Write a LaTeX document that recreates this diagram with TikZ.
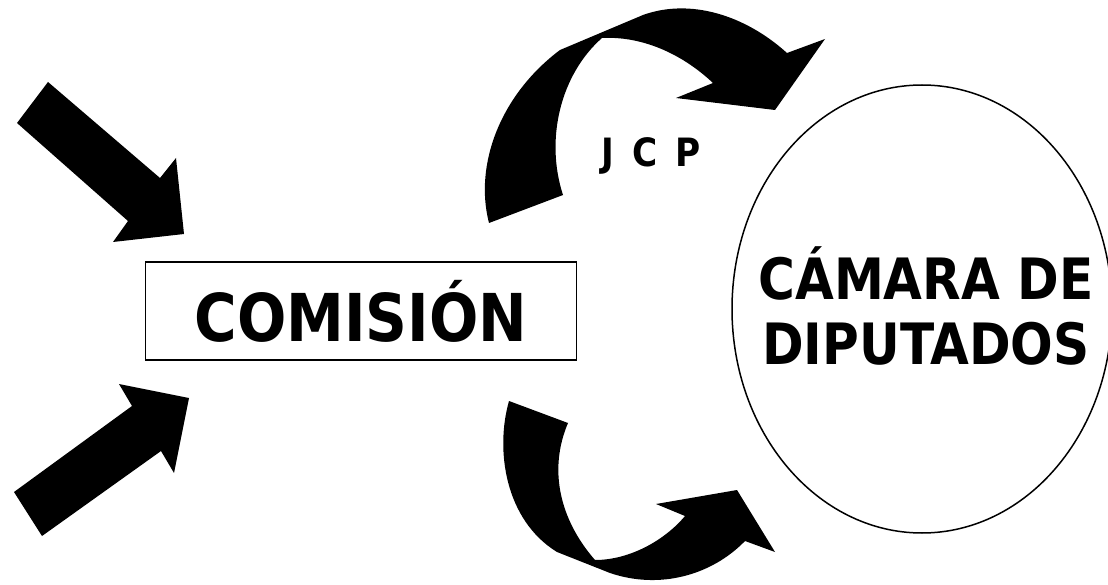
\documentclass[tikz,border=0pt]{standalone}
\usepackage{fontspec}
\setmainfont{DejaVu Sans}[FakeStretch=0.88]
\usetikzlibrary{shapes.geometric}

\begin{document}
\begin{tikzpicture}[x=1pt,y=-1pt,
    box node/.style={rectangle,draw,line width=1.8pt,minimum width=431pt,minimum height=98pt,font=\bfseries\fontsize{66}{70}\selectfont},
    oval node/.style={ellipse,draw,line width=1.5pt,minimum width=380pt,minimum height=448pt,inner sep=0pt},
    oval text/.style={align=center,font=\bfseries\fontsize{57}{65}\selectfont},
    label node/.style={font=\bfseries\fontsize{39}{44}\selectfont\addfontfeature{LetterSpace=15}},
    block arrow/.style={fill=black,draw=none}]
\useasboundingbox (0,0) rectangle (1108,585);

\node[box node]   (comision) at (361,311) {COMISIÓN};
\node[oval node]  (camara)   at (922,309) {};
\node[oval text]  (camaratxt) at (926,306) {CÁMARA DE\\DIPUTADOS};
\node[label node] (jcp)      at (651,156) {J C P};

% arrows into the box
\fill[block arrow] (17,123) -- (48,82) -- (160,178) -- (176,158) -- (184,234) -- (113,242) -- (128,221) -- cycle;
\fill[block arrow] (14,492) -- (42,536) -- (161,451) -- (174,473) -- (189,398) -- (119,384) -- (132,406) -- cycle;

% curved arrows
\fill[block arrow] (489,223) .. controls (474,165) and (500,95) .. (560,50) -- (643,15)
    .. controls (690,-2) and (745,15) .. (787,53) -- (825,39) -- (775,110) -- (676,98) -- (713,83)
    .. controls (680,52) and (640,36) .. (602,38)
    .. controls (560,75) and (545,140) .. (563,195) -- cycle;
\fill[block arrow] (509,401) .. controls (495,450) and (505,520) .. (557,552) -- (610,573)
    .. controls (660,590) and (712,575) .. (745,541) -- (775,552) -- (737,490) -- (656,504) -- (685,516)
    .. controls (665,540) and (630,560) .. (595,560)
    .. controls (560,520) and (548,470) .. (568,423) -- cycle;

\end{tikzpicture}
\end{document}
